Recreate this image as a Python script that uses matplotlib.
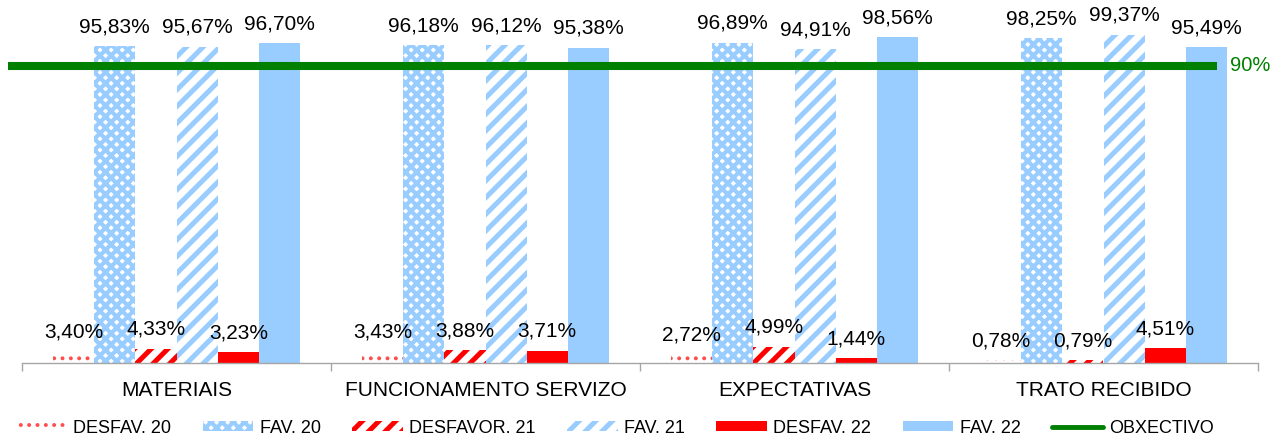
import matplotlib
matplotlib.use('Agg')
import matplotlib.pyplot as plt
import numpy as np
from matplotlib.transforms import blended_transform_factory

categories = ['MATERIAIS', 'FUNCIONAMENTO SERVIZO', 'EXPECTATIVAS', 'TRATO RECIBIDO']
desfav20 = [3.40, 3.43, 2.72, 0.78]
fav20 = [95.83, 96.18, 96.89, 98.25]
desfav21 = [4.33, 3.88, 4.99, 0.79]
fav21 = [95.67, 96.12, 94.91, 99.37]
desfav22 = [3.23, 3.71, 1.44, 4.51]
fav22 = [96.70, 95.38, 98.56, 95.49]
series_names = ['DESFAV. 20', 'FAV. 20', 'DESFAVOR. 21', 'FAV. 21', 'DESFAV. 22', 'FAV. 22']
objective = 90
objective_name = 'OBXECTIVO'

plt.rcParams['font.family'] = ['Liberation Sans', 'DejaVu Sans']

RED = '#FF0000'
BLUE = '#99CCFF'
GREEN = '#008000'

fig = plt.figure(figsize=(12.73, 4.36), dpi=100)
ax = fig.add_axes([22/1273, 1-363/436, 1236/1273, 330.5/436])

series = [desfav20, fav20, desfav21, fav21, desfav22, fav22]
styles = [
    dict(facecolor='white', edgecolor='#FF4D4D', hatch='..', hlw=1.6),
    dict(facecolor='white', edgecolor=BLUE, hatch='xxx', hlw=3.0),
    dict(facecolor='white', edgecolor=RED, hatch='//', hlw=3.6),
    dict(facecolor='white', edgecolor=BLUE, hatch='//', hlw=3.6),
    dict(facecolor=RED, edgecolor=RED, hatch=None, hlw=1.0),
    dict(facecolor=BLUE, edgecolor=BLUE, hatch=None, hlw=1.0),
]

x = np.arange(len(categories))
w = 0.8 / 6
handles = []
for i, (vals, st) in enumerate(zip(series, styles)):
    pos = x + (i - 2.5) * w
    bars = ax.bar(pos, vals, width=w, facecolor=st['facecolor'],
                  edgecolor=st['edgecolor'], hatch=st['hatch'],
                  linewidth=0, label=series_names[i])
    for p in bars:
        p.set_hatch_linewidth(st['hlw'])
    handles.append(bars)
    for xp, v in zip(pos, vals):
        ax.annotate(f"{v:.2f}".replace('.', ',') + '%', (xp, v),
                    xytext=(0, 10), textcoords='offset points',
                    ha='center', va='baseline', fontsize=15, color='black',
                    annotation_clip=False)

trans = blended_transform_factory(ax.transAxes, ax.transData)
line, = ax.plot([(8-22)/1236, (1217-22)/1236], [objective, objective],
                color=GREEN, lw=5.8, transform=trans, clip_on=False,
                solid_capstyle='butt', label=objective_name)
ax.text((1230-22)/1236, objective, f"{objective}%", transform=trans,
        color=GREEN, fontsize=14.5, va='center', ha='left')

ax.set_xlim(-0.5, len(categories) - 0.5)
ax.set_ylim(0, 100)
for s in ['top', 'right', 'left']:
    ax.spines[s].set_visible(False)
ax.spines['bottom'].set_color('#A6A6A6')
ax.spines['bottom'].set_linewidth(1.0)
ax.set_yticks([])
ax.set_xticks(x)
ax.set_xticklabels(categories, fontsize=15)
ax.tick_params(axis='x', which='major', length=0, pad=13)
ax.set_xticks(np.arange(-0.5, len(categories), 1.0), minor=True)
ax.tick_params(axis='x', which='minor', length=6, color='#A6A6A6', width=1.0)

leg = fig.legend(handles + [line], series_names + [objective_name], ncol=7,
                 loc='center', bbox_to_anchor=(615/1273, 1-428/436),
                 frameon=False, fontsize=13, handlelength=2.8,
                 handleheight=0.5, handletextpad=0.35, columnspacing=1.75,
                 borderpad=0, borderaxespad=0)
for l in leg.get_lines():
    l.set_linewidth(3.5)
    l.set_solid_capstyle('round')
for p, st in zip(leg.get_patches(), styles):
    p.set_linewidth(0)
    p.set_hatch_linewidth(st['hlw'])

fig.savefig('out.png', dpi=100)
